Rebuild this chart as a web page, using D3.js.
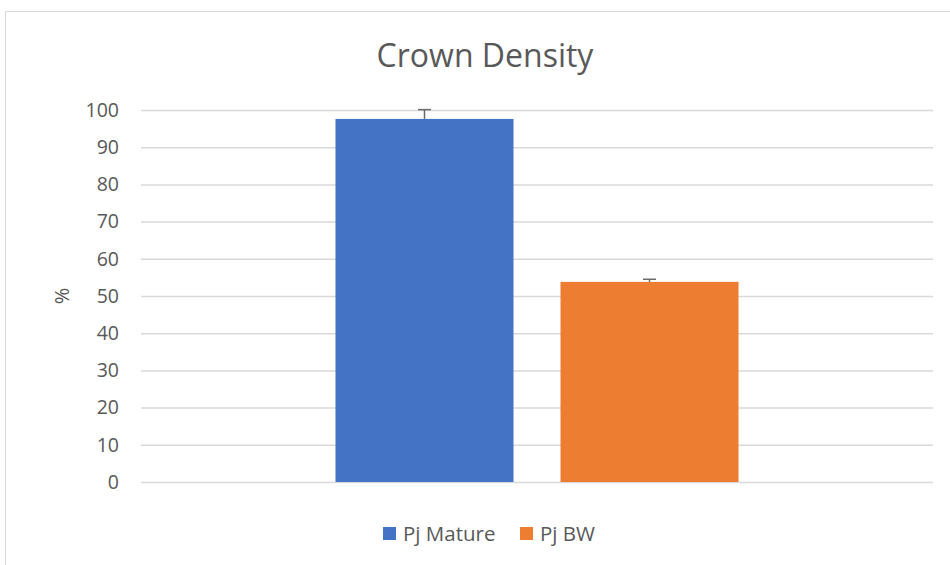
<!DOCTYPE html>
<html>
<head>
<meta charset="utf-8">
<script src="https://cdn.jsdelivr.net/npm/d3@7"></script>
<style>
  html, body { margin: 0; padding: 0; background: #fff; }
  svg { display: block; }
</style>
</head>
<body>
<svg id="chart" width="950" height="565"></svg>
<script>
const title = "Crown Density";
const categories = [""];
const seriesNames = ["Pj Mature", "Pj BW"];
const seriesValues = [97.6, 53.8];
const seriesErrors = [2.5, 0.7];
const seriesColors = ["#4472C4", "#ED7D31"];
const yTicks = [0, 10, 20, 30, 40, 50, 60, 70, 80, 90, 100];
const yLabel = "%";

const svg = d3.select("#chart");
const font = "'Open Sans', 'Noto Sans', sans-serif";
const textColor = "#595959";

// outer chart border
svg.append("rect")
  .attr("x", 5.5).attr("y", 11.5)
  .attr("width", 1000).attr("height", 600)
  .attr("fill", "none").attr("stroke", "#d9d9d9").attr("stroke-width", 1);

const plot = { left: 141, right: 933, top: 110, bottom: 482 };

const y = d3.scaleLinear().domain([0, 100]).range([plot.bottom, plot.top]);
const x0 = d3.scaleBand().domain(categories).range([plot.left, plot.right])
  .paddingInner(0).paddingOuter(0.4826);
const x1 = d3.scaleBand().domain(seriesNames).range([0, x0.bandwidth()])
  .paddingInner(0.2089).paddingOuter(0);

// gridlines
const yAxis = d3.axisLeft(y).tickValues(yTicks).tickSize(-(plot.right - plot.left)).tickPadding(22);
const gAxis = svg.append("g").attr("transform", `translate(${plot.left},0)`).call(yAxis);
gAxis.select(".domain").remove();
gAxis.selectAll(".tick line").attr("stroke", "#d9d9d9").attr("stroke-width", 1.5);
gAxis.selectAll(".tick text")
  .attr("fill", textColor).attr("font-family", font).attr("font-size", 19.5);

// bars
const data = seriesNames.map((s, i) => ({ cat: categories[0], name: s, value: seriesValues[i], err: seriesErrors[i], color: seriesColors[i] }));
const gBars = svg.append("g");
gBars.selectAll("rect").data(data).enter().append("rect")
  .attr("x", d => x0(d.cat) + x1(d.name))
  .attr("y", d => y(d.value))
  .attr("width", x1.bandwidth())
  .attr("height", d => y(0) - y(d.value))
  .attr("fill", d => d.color);

// error bars (plus only)
const gErr = svg.append("g").attr("stroke", "#6b6b6b").attr("stroke-width", 1.5);
data.forEach(d => {
  const cx = x0(d.cat) + x1(d.name) + x1.bandwidth() / 2;
  gErr.append("line").attr("x1", cx).attr("x2", cx).attr("y1", y(d.value)).attr("y2", y(d.value + d.err));
  gErr.append("line").attr("x1", cx - 6.5).attr("x2", cx + 6.5).attr("y1", y(d.value + d.err)).attr("y2", y(d.value + d.err));
});

// title
svg.append("text").attr("x", 485).attr("y", 67).attr("text-anchor", "middle")
  .attr("font-family", font).attr("font-size", 32).attr("fill", textColor).text(title);

// y label
svg.append("text").attr("transform", "translate(69,296) rotate(-90)").attr("text-anchor", "middle")
  .attr("font-family", font).attr("font-size", 20).attr("fill", textColor).text(yLabel);

// legend
const legendItems = [{ x: 383, tx: 403 }, { x: 520, tx: 540 }];
data.forEach((d, i) => {
  svg.append("rect").attr("x", legendItems[i].x).attr("y", 527).attr("width", 13).attr("height", 13).attr("fill", d.color);
  svg.append("text").attr("x", legendItems[i].tx).attr("y", 541)
    .attr("font-family", font).attr("font-size", 20.5).attr("fill", textColor).text(d.name);
});
</script>
</body>
</html>
